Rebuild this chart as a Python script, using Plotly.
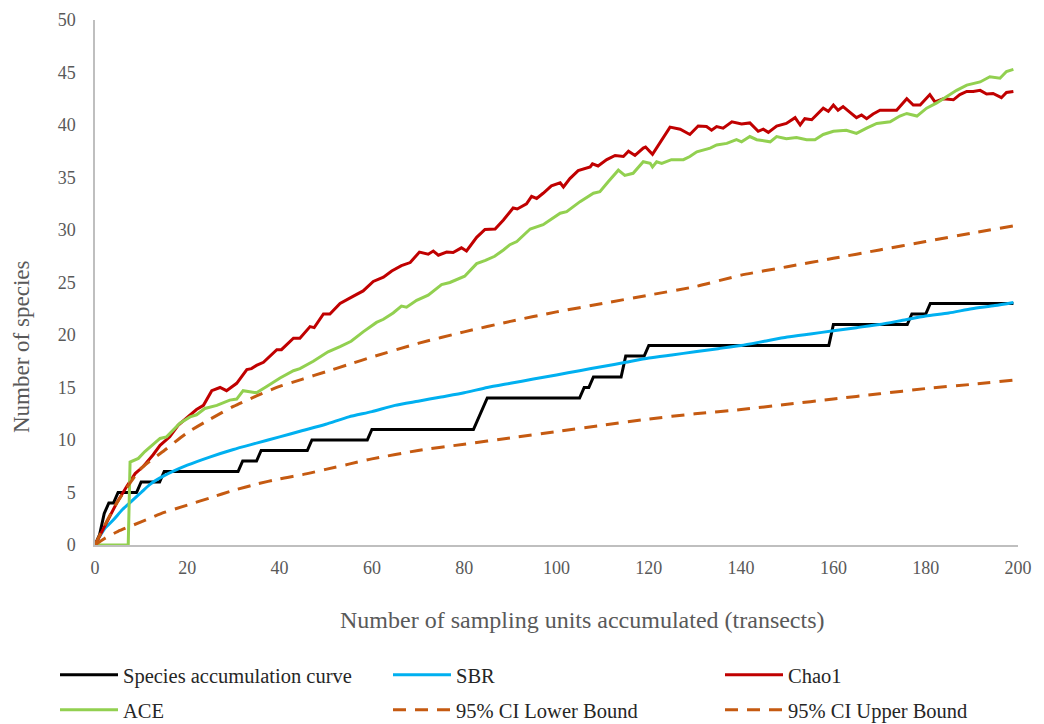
import plotly.graph_objects as go

# ---- Data ----
# Species accumulation curve (observed, step-like)
sac_x = [0, 1, 2, 3, 4, 5, 9, 10, 14, 15, 31, 32, 35, 36, 46, 47, 59, 60, 82, 83, 84, 85,
         105, 106, 107, 108, 114, 115, 119, 120, 159, 160, 176, 177, 180, 181, 199]
sac_y = [0, 1, 3, 4, 4, 5, 5, 6, 6, 7, 7, 8, 8, 9, 9, 10, 10, 11, 11, 12, 13, 14,
         14, 15, 15, 16, 16, 18, 18, 19, 19, 21, 21, 22, 22, 23, 23]

# SBR
sbr_x = [0, 1, 2, 4, 6, 8, 10, 12, 15, 20, 25, 30, 35, 40, 45, 50, 55, 60, 65, 70, 75, 80,
         85, 90, 95, 100, 105, 110, 115, 120, 125, 130, 135, 140, 145, 150, 155, 160, 165,
         170, 175, 180, 185, 190, 195, 199]
sbr_y = [0, 0.8, 1.5, 2.4, 3.4, 4.2, 5.0, 5.8, 6.6, 7.6, 8.4, 9.1, 9.7, 10.3, 10.9, 11.5,
         12.2, 12.7, 13.3, 13.7, 14.1, 14.5, 15.0, 15.4, 15.8, 16.2, 16.6, 17.0, 17.4, 17.8,
         18.1, 18.4, 18.7, 19.0, 19.4, 19.8, 20.1, 20.4, 20.7, 21.0, 21.4, 21.8, 22.1, 22.5,
         22.8, 23.1]

# Chao1
chao_x = [0, 2.5, 4.7, 6.9, 8.7, 10.5, 12.6, 14.1, 16.2, 18, 20.6, 22, 23.5, 25.3, 27.1,
          28.5, 30.7, 32.9, 33.9, 35, 36.5, 39.4, 40.4, 43, 44.4, 46.6, 47.5, 49.5, 50.9,
          53.1, 56, 58.1, 60.3, 62.5, 64.3, 66.4, 68.3, 70.3, 72.2, 73.3, 74.4, 76.2, 77.6,
          79.4, 80.5, 82.7, 84.5, 86.7, 88.5, 90.6, 91.5, 93.5, 94.6, 95.7, 97.1, 98.9,
          100.8, 101.5, 102.9, 104.7, 107.3, 107.8, 109, 110.9, 112.7, 114.5, 115.6, 117,
          118.8, 119.3, 120.8, 122.8, 124.6, 126.8, 128.9, 130.7, 132.5, 133.6, 134.7,
          136.1, 138, 140.1, 141.9, 143.7, 144.8, 145.9, 147.7, 149.8, 151.7, 152.8, 153.8,
          155.3, 157.8, 158.9, 160, 161, 162.1, 163.6, 165, 166.1, 167.2, 168.6, 170.1,
          172.3, 173.7, 175.9, 177.3, 178.8, 180.9, 182, 183.8, 186, 187.4, 188.9, 190.3,
          191.8, 193.2, 194.6, 196.4, 197.5, 199]
chao_y = [0, 2.1, 4.0, 5.6, 6.8, 7.5, 8.6, 9.5, 10.3, 11.4, 12.4, 12.9, 13.3, 14.7, 15.0,
          14.7, 15.4, 16.7, 16.8, 17.1, 17.4, 18.6, 18.6, 19.7, 19.7, 20.8, 20.7, 22.0, 22.0,
          23.0, 23.7, 24.2, 25.1, 25.5, 26.1, 26.6, 26.9, 27.9, 27.7, 28.0, 27.6, 27.9, 27.85,
          28.3, 28.0, 29.3, 30.05, 30.1, 30.95, 32.1, 32.0, 32.5, 33.2, 33.0, 33.5, 34.2,
          34.5, 34.1, 34.9, 35.65, 36.0, 36.3, 36.1, 36.7, 37.1, 37.0, 37.5, 37.1,
          37.8, 37.9, 37.2, 38.6, 39.8, 39.6, 39.1, 39.9, 39.85, 39.5, 39.85,
          39.7, 40.3, 40.1, 40.2, 39.4, 39.6, 39.3, 39.9, 40.15, 40.7, 40.0, 40.6,
          40.5, 41.6, 41.3, 41.9, 41.4, 41.75, 41.2, 40.7, 40.95, 40.6, 41.05, 41.4,
          41.4, 41.4, 42.5, 41.9, 41.9, 42.9, 42.2, 42.5, 42.4, 42.9, 43.2, 43.2,
          43.3, 42.95, 43.0, 42.6, 43.1, 43.2]

# ACE
ace_x = [0, 7.2, 7.6, 9.4, 10.8, 12.3, 14.1, 15.5, 17.3, 18.4, 20.6, 22, 23.8, 26.4, 29.2,
         30.7, 32.1, 34.3, 35, 37.2, 40.1, 43, 44.4, 47.3, 50.5, 53.1, 55.5, 58.1, 61, 62.5,
         64.6, 66.4, 67.5, 69.7, 72.2, 75.1, 76.9, 80.1, 82.7, 84.6, 86.6, 88.5, 89.9, 91.4,
         94.3, 97.1, 100.8, 102.2, 105.1, 108, 109.4, 111.2, 113.4, 114.8, 116.6, 118.8,
         120.3, 120.8, 121.7, 122.8, 124.9, 127.5, 128.9, 130.4, 133.3, 134.7, 136.9, 139,
         140.1, 141.9, 143.4, 146.3, 147.7, 149.8, 152, 154.2, 156, 157.8, 160, 162.8, 165,
         167.2, 169.4, 172.3, 174.4, 175.9, 178.1, 180.2, 182.4, 184.5, 186.7, 188.9, 191.8,
         193.9, 196.1, 197.5, 199]
ace_y = [0, 0, 7.9, 8.25, 8.9, 9.5, 10.15, 10.3, 11.1, 11.6, 12.2, 12.4, 13.0, 13.3, 13.8,
         13.9, 14.7, 14.6, 14.5, 15.1, 15.9, 16.6, 16.8, 17.5, 18.4, 18.9, 19.4, 20.3, 21.2,
         21.5, 22.1, 22.75, 22.65, 23.3, 23.8, 24.8, 25.0, 25.6, 26.8, 27.1, 27.5, 28.1, 28.6,
         28.9, 30.1, 30.5, 31.6, 31.75, 32.7, 33.5, 33.65, 34.6, 35.7, 35.2, 35.4, 36.5,
         36.35, 36.0, 36.5, 36.35, 36.7, 36.7, 37.0, 37.45, 37.8, 38.1, 38.25, 38.6,
         38.4, 38.9, 38.6, 38.4, 38.9, 38.7, 38.8, 38.6, 38.6, 39.1, 39.4, 39.5, 39.2,
         39.7, 40.15, 40.3, 40.85, 41.1, 40.85, 41.6, 42.1, 42.7, 43.3, 43.8, 44.1,
         44.6, 44.45, 45.1, 45.3]

# 95% CI bounds
ci_x = [0, 2, 5, 10, 15, 20, 25, 30, 35, 40, 45, 50, 55, 60, 70, 80, 90, 100, 110, 120,
        130, 140, 150, 160, 170, 180, 190, 199]
ci_lower = [0, 0.6, 1.3, 2.2, 3.1, 3.8, 4.5, 5.2, 5.8, 6.3, 6.7, 7.2, 7.7, 8.2, 9.0, 9.6,
            10.2, 10.8, 11.4, 12.0, 12.5, 12.9, 13.4, 13.9, 14.4, 14.9, 15.3, 15.7]
ci_upper = [0, 1.8, 4.2, 7.3, 9.0, 10.7, 12.0, 13.2, 14.2, 15.1, 15.8, 16.5, 17.2, 17.9,
            19.2, 20.3, 21.3, 22.2, 23.0, 23.8, 24.6, 25.7, 26.5, 27.3, 28.1, 28.9, 29.7, 30.4]

x_ticks = [0, 20, 40, 60, 80, 100, 120, 140, 160, 180, 200]
y_ticks = [0, 5, 10, 15, 20, 25, 30, 35, 40, 45, 50]

names = ["Species accumulation curve", "SBR", "Chao1", "ACE",
         "95% CI Lower Bound", "95% CI Upper Bound"]

# ---- Figure ----
FONT = "Liberation Serif, Times New Roman, serif"
ORANGE = "#C55A11"
DASH = "13px,9px"
W, H = 1036, 716          # page has an 8px body margin
ML, MR, MT, MB = 87, 26, 12, 179
PW = W - ML - MR
PH = H - MT - MB

fig = go.Figure()
specs = [
    (sac_x, sac_y, dict(color="#000000", width=3)),
    (sbr_x, sbr_y, dict(color="#00B0F0", width=3, shape="spline", smoothing=0.6)),
    (chao_x, chao_y, dict(color="#C00000", width=3)),
    (ace_x, ace_y, dict(color="#92D050", width=3)),
    (ci_x, ci_lower, dict(color=ORANGE, width=3, dash=DASH, shape="spline", smoothing=0.6)),
    (ci_x, ci_upper, dict(color=ORANGE, width=3, dash=DASH, shape="spline", smoothing=0.6)),
]
legend_ids = ["legend", "legend2", "legend3", "legend4", "legend5", "legend6"]
for i, (xs, ys, ln) in enumerate(specs):
    fig.add_trace(go.Scatter(x=xs, y=ys, mode="lines", name=names[i], line=ln,
                             legend=legend_ids[i]))

# legend placement (page px of line start, row centre) -> container coords
col_px = [60, 393, 725]
row_px = [675, 710]
legend_layout = {}
for i, lid in enumerate(legend_ids):
    cx = col_px[i % 3] - 8 - 5
    cy = row_px[i // 3] - 8
    legend_layout[lid] = dict(
        xref="container", yref="container",
        x=cx / W, y=1 - cy / H, xanchor="left", yanchor="middle",
        itemwidth=58,
        font=dict(family=FONT, size=20.5, color="#262626"),
        bgcolor="rgba(0,0,0,0)",
    )

fig.update_layout(
    width=W, height=H,
    margin=dict(l=ML, r=MR, t=MT, b=MB, autoexpand=False),
    paper_bgcolor="white", plot_bgcolor="white",
    font=dict(family=FONT, color="#595959", size=18),
    showlegend=True,
    xaxis=dict(
        range=[0, 200], tickvals=x_ticks, ticktext=[str(v) for v in x_ticks],
        showgrid=False, zeroline=False,
        showline=True, linecolor="#BFBFBF", linewidth=1.5,
        ticks="", ticklabelstandoff=6,
        tickfont=dict(family=FONT, size=18, color="#595959"),
    ),
    yaxis=dict(
        range=[0, 50], tickvals=y_ticks, ticktext=[str(v) for v in y_ticks],
        showgrid=False, zeroline=False,
        showline=True, linecolor="#BFBFBF", linewidth=1.5,
        ticks="", ticklabelstandoff=14,
        tickfont=dict(family=FONT, size=18, color="#595959"),
    ),
    annotations=[
        dict(text="Number of sampling units accumulated (transects)",
             xref="paper", yref="paper", x=(582 - 8 - ML) / PW, y=(H - MB - (620 - 8)) / PH,
             showarrow=False, xanchor="center", yanchor="middle",
             font=dict(family=FONT, size=24, color="#595959")),
        dict(text="Number of species",
             xref="paper", yref="paper", x=(22 - 8 - ML) / PW, y=(H - MB - (347 - 8)) / PH,
             showarrow=False, xanchor="center", yanchor="middle", textangle=-90,
             font=dict(family=FONT, size=23, color="#595959")),
    ],
    **legend_layout,
)

fig.write_html("out.html")
